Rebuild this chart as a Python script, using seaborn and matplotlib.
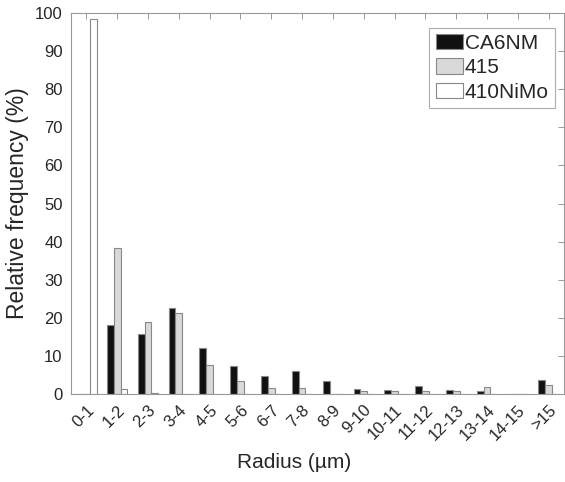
import pandas as pd
import matplotlib
matplotlib.use('Agg')
import matplotlib.pyplot as plt
import seaborn as sns

# categories and values
bins = ['0-1', '1-2', '2-3', '3-4', '4-5', '5-6', '6-7', '7-8', '8-9', '9-10',
        '10-11', '11-12', '12-13', '13-14', '14-15', '>15']
ca6nm = [0, 18.0, 15.8, 22.5, 12.2, 7.4, 4.8, 6.1, 3.3, 1.2, 0.95, 2.2, 1.0, 0.9, 0, 3.8]
s415 = [0, 38.4, 18.8, 21.2, 7.6, 3.5, 1.6, 1.6, 0, 0.9, 0.8, 0.8, 0.8, 1.8, 0, 2.4]
s410nimo = [98.3, 1.4, 0.2, 0.1, 0.1, 0, 0, 0, 0, 0, 0, 0, 0, 0, 0, 0]
series = ['CA6NM', '415', '410NiMo']
colors = ['#111111', '#d9d9d9', '#ffffff']

df = pd.DataFrame({
    'radius': bins * 3,
    'freq': ca6nm + s415 + s410nimo,
    'alloy': [series[0]] * 16 + [series[1]] * 16 + [series[2]] * 16,
})

sns.set_style('white')
plt.rcParams['font.family'] = ['Liberation Sans', 'DejaVu Sans']

fig = plt.figure(figsize=(5.65, 4.82), dpi=100)
ax = fig.add_axes([71 / 565, 1 - 394 / 482, 493 / 565, 381 / 482])

sns.barplot(data=df, x='radius', y='freq', hue='alloy', hue_order=series,
            palette=colors, width=0.66, edgecolor='#888888', linewidth=0.8,
            saturation=1, ax=ax)

ax.set_xlim(-0.5, 15.5)
ax.set_ylim(0, 100)
ax.set_yticks(range(0, 101, 10))
ax.set_xlabel('Radius (µm)', fontsize=15)
ax.xaxis.set_label_coords(0.452, -0.155)
ax.set_ylabel('Relative frequency (%)', fontsize=16.5, labelpad=4)
ax.set_xticks(range(16))
ax.set_xticklabels(bins, rotation=45, ha='right', rotation_mode='anchor')
ax.tick_params(axis='both', direction='in', length=4, width=0.7, color='#999999',
               labelsize=12, top=True, right=True, pad=6)

for s in ax.spines.values():
    s.set_visible(True)
    s.set_color('#999999')
    s.set_linewidth(0.8)

leg = ax.legend(loc='upper right', bbox_to_anchor=(0.982, 0.961), fontsize=15,
                frameon=True, fancybox=False, edgecolor='#999999',
                handlelength=1.3, handleheight=0.75, handletextpad=0.1,
                borderpad=0.3, labelspacing=0.25, borderaxespad=0)
leg.get_frame().set_linewidth(0.8)

plt.savefig('out.png', dpi=100)
